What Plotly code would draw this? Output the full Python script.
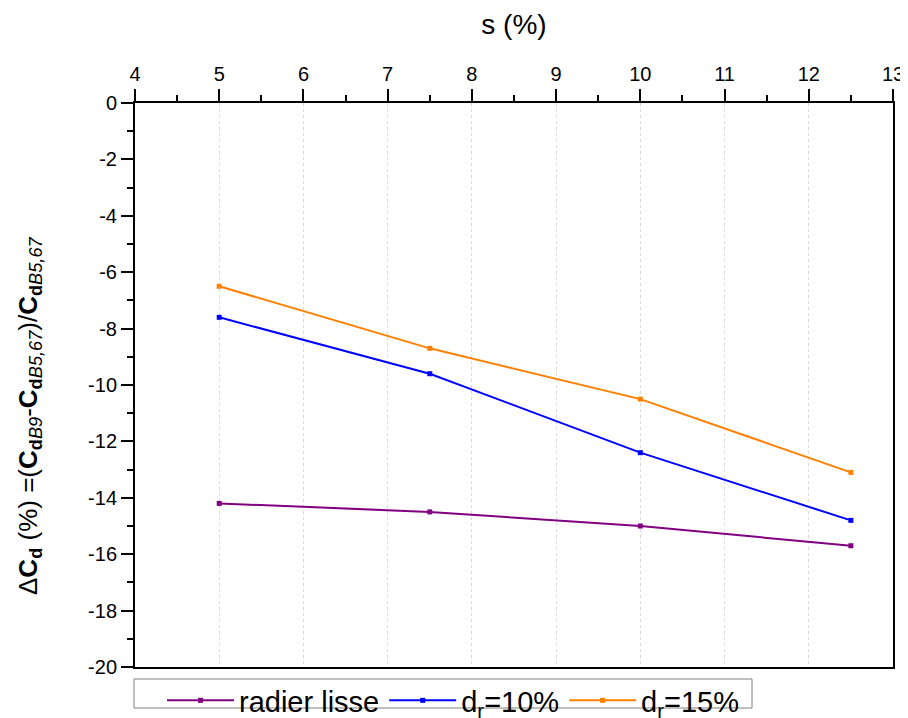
import plotly.graph_objects as go

s_values = [5, 7.5, 10, 12.5]
radier_lisse = [-14.2, -14.5, -15.0, -15.7]
dr_10 = [-7.6, -9.6, -12.4, -14.8]
dr_15 = [-6.5, -8.7, -10.5, -13.1]

series_names = ["radier lisse", "d<sub>r</sub>=10%", "d<sub>r</sub>=15%"]
series_colors = ["#800080", "#0000FF", "#FF8000"]

x_tick_vals = [4, 5, 6, 7, 8, 9, 10, 11, 12, 13]
x_tick_labels = ["4", "5", "6", "7", "8", "9", "10", "11", "12", "13"]
y_tick_vals = [0, -2, -4, -6, -8, -10, -12, -14, -16, -18, -20]
y_tick_labels = ["0", "-2", "-4", "-6", "-8", "-10", "-12", "-14", "-16", "-18", "-20"]

FONT = "Arial, Liberation Sans, sans-serif"

# page body has an 8px margin, so the figure is 8px smaller than the window
W, H = 900, 710
ML, MR, MT, MB = 127, 15, 95, 51
PW = W - ML - MR
PH = H - MT - MB

fig = go.Figure()
for name, vals, col in zip(series_names, [radier_lisse, dr_10, dr_15], series_colors):
    fig.add_trace(go.Scatter(
        x=s_values, y=vals, name=name, mode="lines+markers",
        line=dict(color=col, width=2),
        marker=dict(symbol="square", size=5, color=col),
    ))

y_title = ("Δ<b>C</b><sub><b>d</b></sub> (%) =(<b>C</b><sub><b>d</b><i>B9</i></sub>-"
           "<b>C</b><sub><b>d</b><i>B5,67</i></sub>)/<b>C</b><sub><b>d</b><i>B5,67</i></sub>")

# y-axis title as a rotated annotation so it can sit a little lower, as in the original
fig.add_annotation(text=y_title, textangle=-90, xref="paper", yref="paper",
                   x=(21 - ML) / PW, y=1 - (408 - MT) / PH,
                   xanchor="center", yanchor="middle", showarrow=False,
                   font=dict(size=26, family=FONT, color="black"))

# legend frame (box drawn as a shape, extends past the bottom of the page)
fig.add_shape(type="rect", xref="paper", yref="paper",
              x0=(126 - ML) / PW, x1=(744 - ML) / PW,
              y0=-(700 - MT - PH) / PH, y1=-(671 - MT - PH) / PH,
              line=dict(color="#808080", width=1), fillcolor="white", layer="above")

fig.update_layout(
    width=W, height=H,
    paper_bgcolor="white", plot_bgcolor="white",
    font=dict(family=FONT, color="black", size=20),
    margin=dict(l=ML, r=MR, t=MT, b=MB, autoexpand=False),
    showlegend=True,
    legend=dict(
        orientation="h", x=(154 - ML) / PW, xanchor="left",
        y=-(667 - MT - PH) / PH, yanchor="top",
        borderwidth=0, bgcolor="rgba(0,0,0,0)",
        font=dict(size=29, family=FONT), itemwidth=67,
    ),
    xaxis=dict(
        side="top", range=[4, 13], tickmode="array",
        tickvals=x_tick_vals, ticktext=x_tick_labels,
        ticks="outside", ticklen=12, tickwidth=2, tickcolor="black",
        minor=dict(dtick=0.5, ticks="outside", ticklen=6, tickwidth=2, tickcolor="black", showgrid=False),
        showline=True, linewidth=2, linecolor="black", mirror=True,
        showgrid=True, gridcolor="#d8d8d8", griddash="dot", gridwidth=1,
        zeroline=False,
        title=dict(text="s (%)", font=dict(size=28), standoff=20),
        tickfont=dict(size=20),
    ),
    yaxis=dict(
        range=[-20, 0], tickmode="array",
        tickvals=y_tick_vals, ticktext=y_tick_labels,
        ticks="outside", ticklen=12, tickwidth=2, tickcolor="black",
        minor=dict(dtick=1, ticks="outside", ticklen=6, tickwidth=2, tickcolor="black", showgrid=False),
        showline=True, linewidth=2, linecolor="black", mirror=True,
        showgrid=False, zeroline=False,
        tickfont=dict(size=20),
    ),
)

fig.write_html("out.html")
